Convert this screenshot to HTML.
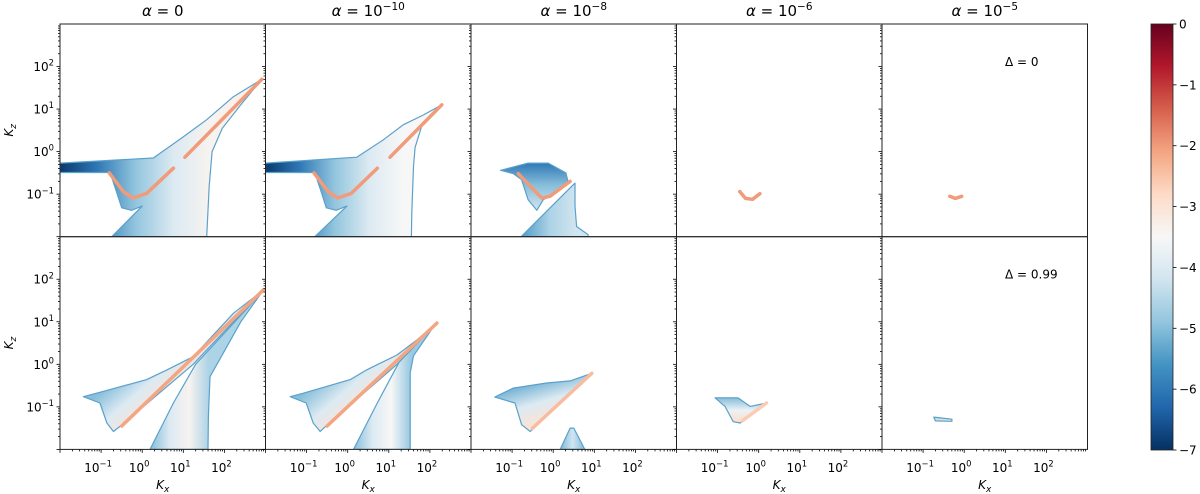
<!DOCTYPE html>
<html><head><meta charset="utf-8"><style>
html,body{margin:0;padding:0;background:#fff;}
svg{display:block;font-family:"DejaVu Sans","Liberation Sans",sans-serif;}
</style></head><body>
<svg id="fig" width="1200" height="494" viewBox="0 0 1200 494" xmlns="http://www.w3.org/2000/svg">
<defs id="defs"></defs>
<g id="shapes"></g>
<g id="axes"></g>
<g id="cbar"></g>
</svg>
<script>
// ---- data (log10 Kx, log10 Kz coordinates; colour values in log units) ----
const colTitles = ["0", "10^-10", "10^-8", "10^-6", "10^-5"];
const rowLabels = ["Δ = 0", "Δ = 0.99"];
const xTickExps = [-1, 0, 1, 2];
const yTickExps = [-1, 0, 1, 2];
const cbarTicks = [0, -1, -2, -3, -4, -5, -6, -7];
const vmin = -7, vmax = 0;
const rdbu = ["#053061","#2166ac","#4393c3","#92c5de","#d1e5f0","#f7f7f7","#fddbc7","#f4a582","#d6604d","#b2182b","#67001f"];

const panelA = [
 {pts:[[-2,-0.27],[0.27,-0.15],[0.96,0.32],[1.57,0.75],[2.22,1.29],[2.91,1.70],[2.4,1.1],[1.95,0.55],[1.7,0.0],[1.63,-0.81],[1.57,-2],[-0.74,-2],[0.0,-1.28],[-0.26,-1.38],[-0.5,-1.32],[-0.62,-0.96],[-0.78,-0.49],[-2,-0.49]],
  g:[-2,-0.4,2.6,-0.4], v:[-6.9,-6.0,-4.9,-4.0,-3.4,-3.3]}
];
const panelB = [
 {pts:[[-2,-0.27],[0.22,-0.13],[0.87,0.28],[1.35,0.63],[1.84,0.86],[2.29,1.10],[1.8,0.6],[1.64,0.1],[1.6,-0.35],[1.56,-1.44],[1.55,-2],[-0.80,-2],[-0.02,-1.28],[-0.28,-1.38],[-0.52,-1.32],[-0.64,-0.96],[-0.80,-0.49],[-2,-0.49]],
  g:[-2,-0.4,2.2,-0.4], v:[-6.9,-6.0,-4.9,-4.0,-3.5,-3.5]}
];
const panelC = [
 {pts:[[-1.28,-0.44],[-0.61,-0.27],[-0.12,-0.27],[0.31,-0.50],[0.37,-0.74],[0.17,-0.90],[-0.24,-1.13],[-0.40,-1.38],[-0.61,-1.13],[-0.77,-0.66],[-0.97,-0.52]],
  g:[0,-0.27,0,-1.3], v:[-6.0,-5.0,-4.3]},
 {pts:[[-0.78,-2],[0.53,-0.74],[0.53,-1.28],[0.57,-1.76],[0.85,-1.95],[0.85,-2]],
  g:[-0.7,-2,0.55,-2], v:[-5.4,-4.6,-4.2]}
];
const panelD = [];
const panelE = [];
const panelF = [
 {pts:[[-1.43,-0.76],[-1.11,-0.68],[0.11,-0.36],[0.60,-0.13],[1.24,0.18],[2.22,1.20],[2.95,1.75],[1.24,0.0],[-0.54,-1.46],[-0.70,-1.58],[-0.86,-1.38],[-1.03,-0.91]],
  g:[-0.6,-0.3,0.2,-1.2], v:[-5.0,-4.0,-3.0]},
 {pts:[[0.19,-2],[0.76,-0.91],[1.30,0.0],[2.9,1.68],[2.4,1.0],[1.65,-0.29],[1.61,-1.23],[1.60,-2]],
  g:[0.2,-1,1.62,-1], v:[-5.0,-4.0,-3.4,-4.6]}
];
const panelG = [
 {pts:[[-1.40,-0.76],[-1.08,-0.68],[0.06,-0.36],[0.46,-0.13],[1.20,0.22],[1.68,0.57],[2.17,0.97],[1.20,0.0],[-0.54,-1.46],[-0.67,-1.58],[-0.84,-1.38],[-1.01,-0.91]],
  g:[-0.6,-0.3,0.2,-1.2], v:[-5.0,-4.0,-3.0]},
 {pts:[[0.14,-2],[0.72,-0.91],[1.25,0.05],[2.1,0.9],[1.6,0.2],[1.52,-0.2],[1.52,-2]],
  g:[0.14,-1,1.52,-1], v:[-5.0,-4.0,-3.5,-4.8]}
];
const panelH = [
 {pts:[[-1.42,-0.77],[-0.97,-0.56],[-0.16,-0.44],[0.41,-0.39],[0.94,-0.21],[-0.56,-1.58],[-0.77,-1.42],[-0.93,-0.91]],
  g:[-0.5,-0.4,-0.2,-1.4], v:[-5.2,-4.0,-3.0]},
 {pts:[[0.17,-2],[0.41,-1.50],[0.5,-1.5],[0.77,-2]],
  g:[0.2,-2,0.75,-2], v:[-5.0,-4.2,-5.0]}
];
const panelI = [
 {pts:[[-1.06,-0.79],[-0.50,-0.79],[-0.21,-0.99],[0.19,-0.91],[-0.45,-1.38],[-0.62,-1.35],[-0.82,-0.99]],
  g:[0,-0.79,0,-1.38], v:[-5.0,-3.7,-2.8]}
];
const panelJ = [
 {pts:[[-0.74,-1.24],[-0.30,-1.29],[-0.30,-1.34],[-0.70,-1.33]],
  g:[0,-1.24,0,-1.34], v:[-4.6,-3.1]}
];
const ridgeA = [{pts:[[-0.80,-0.50],[-0.46,-0.94],[-0.22,-1.09],[0.11,-0.98],[0.76,-0.39]],v:-2.0},{pts:[[1.04,-0.13],[2.91,1.70]],v:-2.0}];
const ridgeB = [{pts:[[-0.82,-0.50],[-0.48,-0.94],[-0.24,-1.09],[0.09,-0.98],[0.72,-0.39]],v:-2.0},{pts:[[1.03,-0.13],[2.29,1.10]],v:-2.0}];
const ridgeC = [{pts:[[-0.85,-0.52],[-0.52,-0.85],[-0.28,-1.09],[-0.08,-1.05],[0.41,-0.70]],v:-2.0}];
const ridgeD = [{pts:[[-0.46,-0.94],[-0.32,-1.10],[-0.15,-1.12],[0.03,-0.99]],v:-2.0}];
const ridgeE = [{pts:[[-0.35,-1.05],[-0.22,-1.10],[-0.06,-1.05]],v:-2.0}];
const ridgeF = [{pts:[[-0.5,-1.45],[2.95,1.75]],v:-2.1}];
const ridgeG = [{pts:[[-0.5,-1.45],[2.17,0.97]],v:-2.1}];
const ridgeH = [{pts:[[-0.5,-1.5],[0.94,-0.21]],v:-2.4}];
const ridgeI = [{pts:[[-0.4,-1.33],[0.19,-0.91]],v:-2.6}];
const ridgeJ = [];
const panels = [[panelA,panelB,panelC,panelD,panelE],[panelF,panelG,panelH,panelI,panelJ]];
const ridges = [[ridgeA,ridgeB,ridgeC,ridgeD,ridgeE],[ridgeF,ridgeG,ridgeH,ridgeI,ridgeJ]];

// ---- layout ----
const NS = "http://www.w3.org/2000/svg";
const colX = [60, 265.5, 471, 676.5, 882], PW = 205.5;
const rowY = [24, 236.7], PH = 212.7;
const LX0 = -2, LX1 = 3, LZ0 = -2, LZ1 = 3;
function xs(c, lx){ return colX[c] + (lx - LX0) / (LX1 - LX0) * PW; }
function ys(r, lz){ return rowY[r] + (LZ1 - lz) / (LZ1 - LZ0) * PH; }
function hex2rgb(h){ return [1,3,5].map(i=>parseInt(h.substr(i,2),16)); }
function cmap(v){
  let t = (v - vmin) / (vmax - vmin); t = Math.max(0, Math.min(1, t));
  const f = t * (rdbu.length - 1), i = Math.min(Math.floor(f), rdbu.length - 2), u = f - i;
  const a = hex2rgb(rdbu[i]), b = hex2rgb(rdbu[i+1]);
  return "rgb(" + a.map((x,k)=>Math.round(x + (b[k]-x)*u)).join(",") + ")";
}
function el(tag, attrs, parent){ const e = document.createElementNS(NS, tag); for (const k in attrs) e.setAttribute(k, attrs[k]); parent.appendChild(e); return e; }
const defs = document.getElementById("defs"), gS = document.getElementById("shapes"), gA = document.getElementById("axes"), gC = document.getElementById("cbar");

let gid = 0;
for (let r = 0; r < 2; r++) for (let c = 0; c < 5; c++) {
  const cp = el("clipPath", {id:"clip"+r+c}, defs);
  el("rect", {x:colX[c], y:rowY[r], width:PW, height:PH}, cp);
  const pg = el("g", {"clip-path":"url(#clip"+r+c+")"}, gS);
  
  
  panels[r][c].forEach(reg => {
    const id = "gr" + (gid++);
    const lg = el("linearGradient", {id:id, gradientUnits:"userSpaceOnUse", x1:xs(c,reg.g[0]), y1:ys(r,reg.g[1]), x2:xs(c,reg.g[2]), y2:ys(r,reg.g[3])}, defs);
    reg.v.forEach((v,i) => el("stop", {offset:(i/(reg.v.length-1)), "stop-color":cmap(v)}, lg));
    const p = el("polygon", {points:reg.pts.map(p=>xs(c,p[0]).toFixed(1)+","+ys(r,p[1]).toFixed(1)).join(" "), fill:"url(#"+id+")", stroke:cmap(-5.4), "stroke-width":1.2, "stroke-linejoin":"round"}, pg);
    
    
  });
  ridges[r][c].forEach(rd => {
    const l = el("polyline", {points:rd.pts.map(p=>xs(c,p[0]).toFixed(1)+","+ys(r,p[1]).toFixed(1)).join(" "), fill:"none", stroke:cmap(rd.v), "stroke-width":3.5, "stroke-linecap":"round", "stroke-linejoin":"round"}, pg);
    
    
  });
}

// ---- axes ----
function sup(parent, x, y, base, exp, size, anchor){
  const t = el("text", {x:x, y:y, "font-size":size, fill:"#000", "text-anchor":anchor||"middle"}, parent);
  const a = el("tspan", {}, t); a.textContent = base;
  const b = el("tspan", {dy:-size*0.45, "font-size":size*0.7}, t); b.textContent = exp;
  return t;
}
for (let r = 0; r < 2; r++) for (let c = 0; c < 5; c++) {
  const x0 = colX[c], y0 = rowY[r];
  for (let d = LZ0; d < LZ1; d++) for (let m = 1; m < 10; m++) {
    const lz = d + Math.log10(m); const y = ys(r, lz);
    const len = m === 1 ? 3.5 : 2;
    el("line", {x1:x0-len, x2:x0, y1:y, y2:y, stroke:"#000", "stroke-width":0.8}, gA);
  }
  if (r === 1) for (let d = LX0; d < LX1; d++) for (let m = 1; m < 10; m++) {
    const lx = d + Math.log10(m); const x = xs(c, lx);
    const len = m === 1 ? 3.5 : 2;
    el("line", {x1:x, x2:x, y1:y0+PH, y2:y0+PH+len, stroke:"#000", "stroke-width":0.8}, gA);
  }
  const fr = el("rect", {x:x0, y:y0, width:PW, height:PH, fill:"none", stroke:"#222", "stroke-width":1}, gA);
  
  
  if (c === 0) {
    yTickExps.forEach(e => {
      const t = sup(gA, x0-6, ys(r,e)+4.5, "10", String(e).replace("-","−"), 12, "end");
      
      
    });
    const yl = el("text", {x:0, y:0, "font-size":12, "font-style":"italic", "text-anchor":"middle", transform:"translate(13,"+(y0+PH/2)+") rotate(-90)"}, gA);
    
    
    const k = el("tspan", {}, yl); k.textContent = "K";
    const s = el("tspan", {dy:3, "font-size":9}, yl); s.textContent = "z";
  }
  if (r === 1) {
    xTickExps.forEach(e => {
      const t = sup(gA, xs(c,e)-3, 472, "10", String(e).replace("-","−"), 12, "middle");
      
      
    });
    const xl = el("text", {x:x0+PW/2, y:489, "font-size":12, "font-style":"italic", "text-anchor":"middle"}, gA);
    
    
    const k = el("tspan", {}, xl); k.textContent = "K";
    const s = el("tspan", {dy:3, "font-size":9}, xl); s.textContent = "x";
  }
  if (r === 0) {
    const parts = colTitles[c].split("^");
    const t = el("text", {x:x0+PW/2, y:16, "font-size":15, "text-anchor":"middle"}, gA);
    
    
    const a = el("tspan", {"font-style":"italic"}, t); a.textContent = "α";
    const b = el("tspan", {}, t); b.textContent = " = " + parts[0];
    if (parts[1]) { const e = el("tspan", {dy:-6, "font-size":10.5}, t); e.textContent = parts[1].replace("-","−"); }
  }
}
rowLabels.forEach((lab, r) => {
  const t = el("text", {x:1005, y:rowY[r]+42, "font-size":12, fill:"#000"}, gA);
  t.textContent = lab;
  
  
});

// ---- colorbar ----
const CX = 1151, CW = 22, CY0 = 24, CY1 = 450;
const cg = el("linearGradient", {id:"cbg", x1:0, y1:1, x2:0, y2:0}, defs);
rdbu.forEach((col,i) => el("stop", {offset:i/(rdbu.length-1), "stop-color":col}, cg));
const cr = el("rect", {x:CX, y:CY0, width:CW, height:CY1-CY0, fill:"url(#cbg)", stroke:"#222", "stroke-width":0.8}, gC);


cbarTicks.forEach(v => {
  const y = CY0 + (vmax - v) / (vmax - vmin) * (CY1 - CY0);
  el("line", {x1:CX+CW, x2:CX+CW+3.5, y1:y, y2:y, stroke:"#000", "stroke-width":0.8}, gC);
  const t = el("text", {x:CX+CW+6, y:y+4.5, "font-size":12}, gC);
  t.textContent = v === 0 ? "0" : "−" + Math.abs(v);
  
  
});
</script>
</body></html>
